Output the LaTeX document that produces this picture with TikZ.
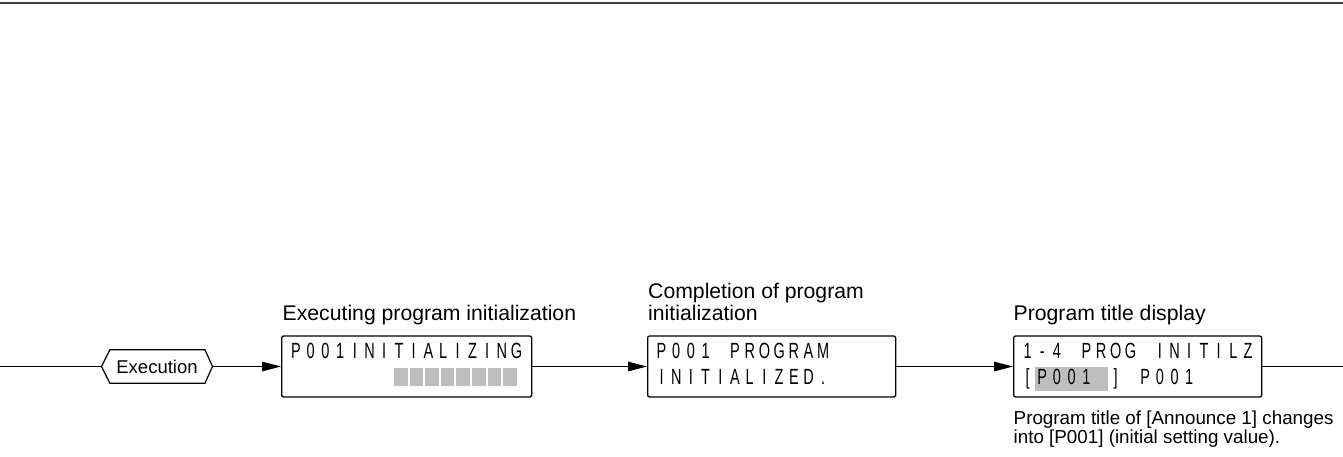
\documentclass[tikz,border=0pt]{standalone}
\usepackage{fontspec}
\setmainfont{Liberation Sans}
\newfontfamily\lcdfont[FakeStretch=0.66]{Liberation Sans}
\usetikzlibrary{arrows.meta,calc}
\definecolor{lcdgray}{RGB}{190,190,190}
\newlength\lcdcell \setlength\lcdcell{14.7pt}
\def\lcdstr#1{\lcdloop#1\relax}
\def\lcdloop#1{\ifx#1\relax\else\makebox[\lcdcell][c]{#1}\expandafter\lcdloop\fi}
\begin{document}
\begin{tikzpicture}[x=1pt,y=-1pt,
  box/.style={draw, rounded corners=2pt, line width=1.3pt, minimum height=61pt, inner sep=0pt, anchor=west},
  lcd/.style={font=\lcdfont\fontsize{22}{24}\selectfont, inner sep=0pt, anchor=base west},
  lab/.style={font=\fontsize{21.2}{24}\selectfont, inner sep=0pt, anchor=base west},
  notetext/.style={font=\fontsize{18.8}{15.5}\selectfont, inner sep=0pt, anchor=north west, align=left},
  conn/.style={line width=1.2pt},
  arr/.style={conn, -{Triangle[length=19pt,width=9.5pt]}},
  hexline/.style={line width=1.2pt}]
\useasboundingbox (0,0) rectangle (1343,456);
\fill[white] (0,0) rectangle (1343,456);
% top rule
\draw[line width=2pt, black!75] (0,2.5) -- (1343,2.5);
% boxes
\node[box, minimum width=250pt] (b1) at (281,366.5) {};
\node[box, minimum width=248pt] (b2) at (647,366.5) {};
\node[box, minimum width=248pt] (b3) at (1013,366.5) {};
% hexagon
\node[font=\fontsize{18.5}{20}\selectfont, minimum width=110.6pt, minimum height=33pt, inner sep=0pt] (ex) at (157,366.5) {Execution};
\draw[hexline] (ex.west) -- ($(ex.north west)+(8.3,0)$) -- ($(ex.north east)+(-7.5,0)$) -- (ex.east) -- ($(ex.south east)+(-7.5,0)$) -- ($(ex.south west)+(8.3,0)$) -- cycle;
% connectors
\coordinate (lin) at (0,366.5);
\coordinate (lout) at (1343,366.5);
\draw[conn] (lin) -- (ex.west);
\draw[arr] (ex.east) -- (b1.west);
\draw[arr] (b1.east) -- (b2.west);
\draw[arr] (b2.east) -- (b3.west);
\draw[conn] (b3.east) -- (lout);
% gray fills
\foreach \i in {0,...,7}
  \fill[lcdgray] ($(b1.west)+(113+15.6*\i,1.5)$) rectangle +(13.6,18);
\fill[lcdgray] ($(b3.west)+(7+14.7,0.5)$) rectangle +(73.5,23.5);
% LCD text
\node[lcd] (t1a) at ($(b1.west)+(7.5,-8)$) {\lcdstr{P001INITIALIZING}};
\node[lcd] (t2a) at ($(b2.west)+(7,-8)$) {\lcdstr{P001~PROGRAM}};
\node[lcd] (t2b) at ($(b2.west)+(7,18)$) {\lcdstr{INITIALIZED.}};
\node[lcd] (t3a) at ($(b3.west)+(7,-8)$) {\lcdstr{1-4~PROG~INITILZ}};
\node[lcd] (t3b) at ($(b3.west)+(7,18)$) {\lcdstr{[P001~]~P001}};
% labels
\node[lab] (l1) at (282.5,320.5) {Executing program initialization};
\node[lab] (l2a) at (648,298.5) {Completion of program};
\node[lab] (l2b) at (648,320.5) {initialization};
\node[lab] (l3) at (1013.5,320.5) {Program title display};
\node[notetext] (n1) at (1013.5,411) {Program title of [Announce 1] changes\\into [P001] (initial setting value).};
\end{tikzpicture}
\end{document}
